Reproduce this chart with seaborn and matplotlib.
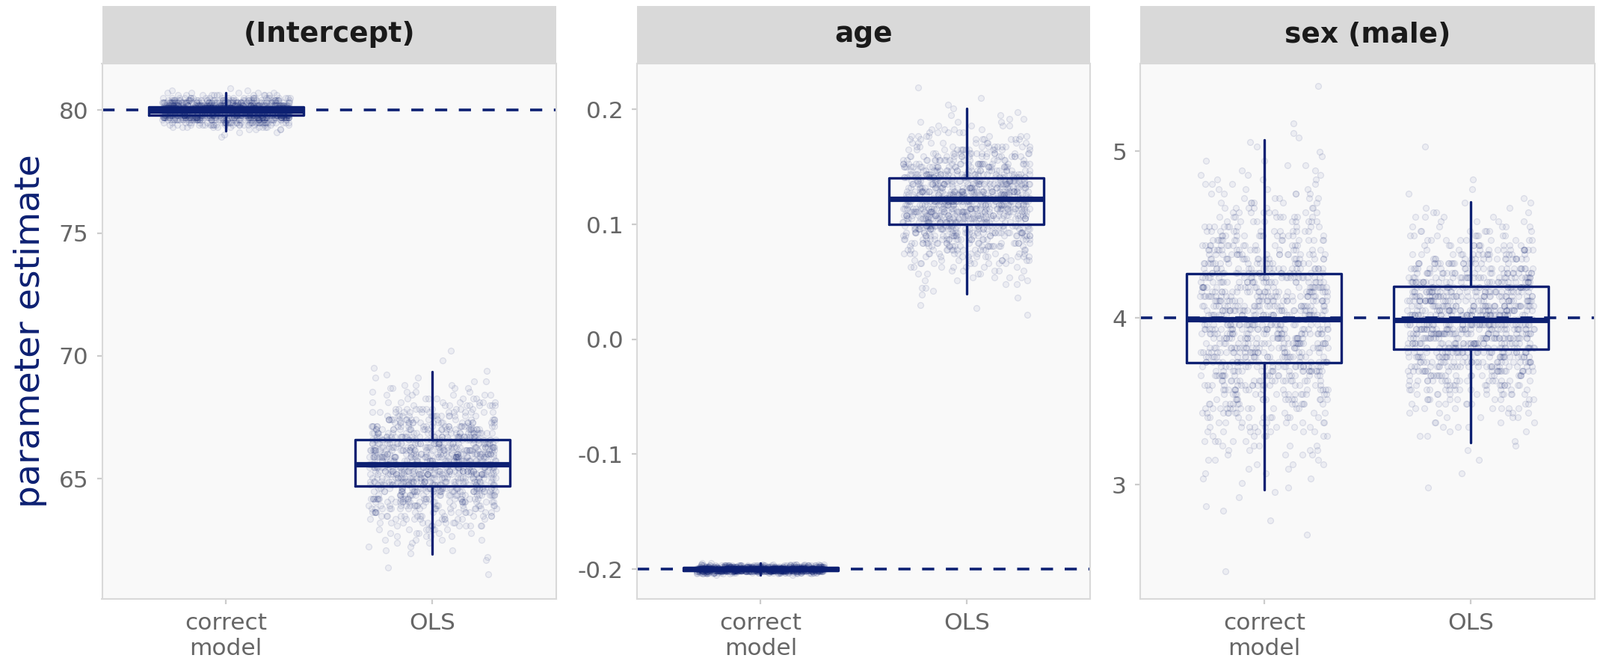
import numpy as np
import pandas as pd
import matplotlib
matplotlib.use("Agg")
import matplotlib.pyplot as plt
from matplotlib.patches import Rectangle
from matplotlib.colors import to_rgba
import seaborn as sns

sns.set_style("white")
plt.rcParams['font.family'] = ['DejaVu Sans']
plt.rcParams['axes.unicode_minus'] = False

NAVY = '#0d2072'

# ---------------- data ----------------
panel_titles = ["(Intercept)", "age", "sex (male)"]
methods = ["correct model", "OLS"]
method_labels = ["correct\nmodel", "OLS"]
true_values = [80, -0.2, 4]

y_ticks_int = [65, 70, 75, 80]
y_ticks_age = [-0.2, -0.1, 0.0, 0.1, 0.2]
y_ticks_sex = [3, 4, 5]

# histograms of the 1000 simulated estimates per method (first bin centre, bin width, counts)
int_cm_bin = (78.9, 0.1)
int_cm_counts = [1, 1, 2, 4, 10, 21, 39, 64, 92, 118, 135, 136, 123, 98, 69, 43, 24, 12, 5, 2, 1]

int_ols_bin = (61.12, 0.14)
int_ols_counts = [1, 0, 1, 0, 1, 1, 1, 2, 2, 3, 4, 4, 5, 7, 8, 9, 11, 13, 15, 17, 19, 22,
                  24, 27, 29, 31, 33, 35, 37, 38, 39, 40, 40,
                  40, 39, 38, 37, 35, 33, 31, 29, 27, 24, 22, 19, 17, 15, 13, 11, 9, 8, 7,
                  5, 4, 4, 3, 2, 2, 1, 1, 1, 0, 1, 0, 0, 1]

age_cm_bin = (-0.205, 0.001)
age_cm_counts = [2, 11, 43, 114, 205, 249, 205, 114, 43, 11, 2]

age_ols_bin = (0.021, 0.003)
age_ols_counts = [1, 0, 1, 1, 0, 1, 1, 1, 2, 2, 3, 4, 4, 5, 7, 8, 9, 11, 13, 15, 17, 19, 22,
                  24, 27, 29, 31, 33, 35, 37, 38, 39, 40, 40,
                  40, 39, 38, 37, 35, 33, 31, 29, 27, 24, 22, 19, 17, 15, 13, 11, 9, 8, 7,
                  5, 4, 4, 3, 2, 2, 1, 1, 1, 0, 1, 0, 0, 1]

sex_cm_bin = (2.478, 0.028)
sex_cm_counts = [1, 0, 0, 0, 0, 0, 0, 0, 1, 0,
                 0, 1, 0, 1, 1, 0, 1, 1, 1, 1,
                 2, 2, 2, 3, 3, 4, 4, 5, 5, 6,
                 7, 8, 9, 10, 10, 12, 13, 14, 15, 16,
                 17, 18, 20, 21, 22, 23, 24, 25, 26, 26,
                 27, 27, 28, 28, 28,
                 28, 28, 27, 27, 26, 26, 25, 24, 23, 22,
                 21, 20, 18, 17, 16, 15, 14, 13, 12, 10,
                 10, 9, 8, 7, 6, 5, 5, 4, 4, 3,
                 3, 2, 2, 2, 1, 1, 1, 1, 1, 1,
                 0, 1, 0, 0, 0, 0, 0, 0, 0, 1]

sex_ols_bin = (2.982, 0.028)
sex_ols_counts = [1, 0, 0,
                  1, 0, 0, 1, 0, 1, 1, 1, 2, 2, 3, 4, 4, 5, 7, 8, 9, 11, 13, 15, 17, 19, 22,
                  24, 27, 29, 31, 33, 35, 37, 38, 39, 40, 40,
                  40, 39, 38, 37, 35, 33, 31, 29, 27, 24, 22, 19, 17, 15, 13, 11, 9, 8, 7,
                  5, 4, 4, 3, 2, 2, 1, 1, 1, 0, 1, 0, 0, 0,
                  0, 0, 0, 1]

# box-plot statistics: [correct model, OLS]
int_q1 = [79.80, 64.70]
int_med = [79.96, 65.59]
int_q3 = [80.12, 66.59]
int_lo = [79.16, 61.94]
int_hi = [80.70, 69.36]

age_q1 = [-0.2011, 0.0998]
age_med = [-0.2000, 0.1220]
age_q3 = [-0.1989, 0.1406]
age_lo = [-0.2050, 0.0397]
age_hi = [-0.1950, 0.2010]

sex_q1 = [3.732, 3.813]
sex_med = [3.990, 3.987]
sex_q3 = [4.265, 4.189]
sex_lo = [2.970, 3.253]
sex_hi = [5.070, 4.694]

# ---------------- helpers ----------------
def hist_values(bin_spec, counts):
    start, width = bin_spec
    centres = start + width * np.arange(len(counts))
    return np.repeat(centres, counts)


def panel_frame(cm_bin, cm_counts, ols_bin, ols_counts):
    v_cm = hist_values(cm_bin, cm_counts)
    v_ols = hist_values(ols_bin, ols_counts)
    return pd.DataFrame({
        "method": [methods[0]] * len(v_cm) + [methods[1]] * len(v_ols),
        "estimate": np.concatenate([v_cm, v_ols]),
    })


panels = [
    (panel_frame(int_cm_bin, int_cm_counts, int_ols_bin, int_ols_counts),
     (int_q1, int_med, int_q3, int_lo, int_hi), y_ticks_int, (60.11, 81.89), "{:g}"),
    (panel_frame(age_cm_bin, age_cm_counts, age_ols_bin, age_ols_counts),
     (age_q1, age_med, age_q3, age_lo, age_hi), y_ticks_age, (-0.226, 0.240), "{:.1f}"),
    (panel_frame(sex_cm_bin, sex_cm_counts, sex_ols_bin, sex_ols_counts),
     (sex_q1, sex_med, sex_q3, sex_lo, sex_hi), y_ticks_sex, (2.314, 5.526), "{:g}"),
]

# ---------------- figure ----------------
W, H = 2140, 888
fig = plt.figure(figsize=(W / 100, H / 100), dpi=100)
fig.patch.set_facecolor('white')

panel_x = [(136.5, 744), (852, 1458), (1525, 2133)]
top_px, strip_px, bottom_px = 8, 85, 801

for i, (df, stats, ticks, ylim, fmt) in enumerate(panels):
    x0, x1 = panel_x[i]
    ax = fig.add_axes([x0 / W, (H - bottom_px) / H, (x1 - x0) / W, (bottom_px - strip_px) / H])
    ax.set_facecolor('#f9f9f9')

    n_before = len(ax.collections)
    sns.stripplot(data=df, x="method", y="estimate", order=methods, jitter=0.31,
                  size=5.7, color=NAVY, linewidth=0.9, edgecolor=NAVY,
                  ax=ax, zorder=1)
    for coll in ax.collections[n_before:]:
        coll.set_alpha(None)
        coll.set_facecolor(to_rgba(NAVY, 0.05))
        coll.set_edgecolor(to_rgba(NAVY, 0.11))

    ax.axhline(true_values[i], color=NAVY, lw=2.6, ls=(0, (4.5, 4.3)), zorder=2)

    q1, med, q3, lo, hi = stats
    bstats = [dict(med=med[k], q1=q1[k], q3=q3[k], whislo=lo[k], whishi=hi[k], fliers=[])
              for k in range(2)]
    ax.bxp(bstats, positions=[0, 1], widths=0.75, showcaps=False, showfliers=False,
           boxprops=dict(color=NAVY, lw=2.4),
           medianprops=dict(color=NAVY, lw=5.2, solid_capstyle='butt'),
           whiskerprops=dict(color=NAVY, lw=2.4),
           manage_ticks=False, zorder=3)

    ax.set_xlim(-0.6, 1.6)
    ax.set_ylim(*ylim)
    ax.set_yticks(ticks)
    ax.set_yticklabels([fmt.format(t) for t in ticks])
    ax.set_xticks([0, 1])
    ax.set_xticklabels(method_labels, linespacing=1.2)
    ax.set_xlabel("")
    ax.set_ylabel("")
    ax.tick_params(axis='both', which='major', labelsize=22.5, labelcolor='#666666',
                   color='#cccccc', length=5, width=1.6, left=True, bottom=True)
    ax.tick_params(axis='y', pad=8)
    ax.tick_params(axis='x', pad=8)
    for s in ax.spines.values():
        s.set_color('#d9d9d9')
        s.set_linewidth(1.5)

    strip_h = (strip_px - top_px) / (bottom_px - strip_px)
    ax.add_patch(Rectangle((0, 1), 1, strip_h, transform=ax.transAxes,
                           facecolor='#d9d9d9', edgecolor='none', clip_on=False))
    ax.text(0.5, 1 + strip_h / 2, panel_titles[i], transform=ax.transAxes,
            ha='center', va='center', fontsize=27, fontweight='bold', color='#1a1a1a')

fig.text(41 / W, 1 - 443 / H, "parameter estimate", rotation=90, ha='center', va='center',
         fontsize=34, color=NAVY)

fig.savefig("out.png", dpi=100)
